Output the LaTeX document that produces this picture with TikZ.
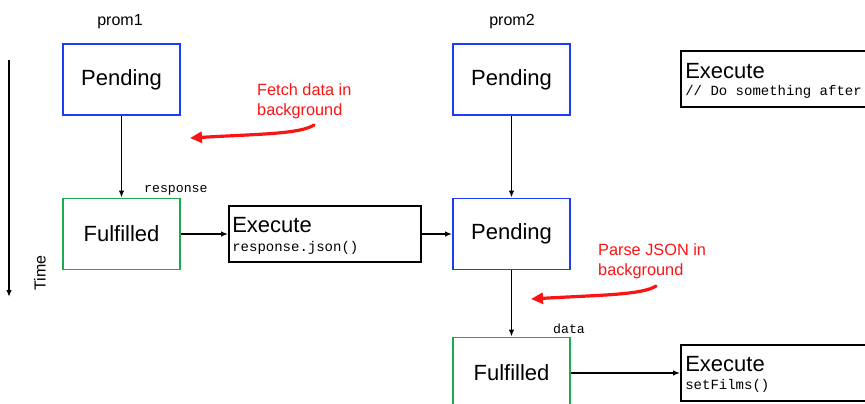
\documentclass[tikz,border=0pt]{standalone}
\usepackage{fontspec}
\setmainfont{Liberation Sans}
\setmonofont{Liberation Mono}
\usetikzlibrary{arrows.meta,calc}
\definecolor{pendblue}{RGB}{28,60,250}
\definecolor{fulgreen}{RGB}{30,170,80}
\definecolor{notered}{RGB}{250,20,20}
\tikzset{
  state/.style={draw, line width=1.8pt, minimum width=117pt, minimum height=71pt,
    inner sep=0pt, font=\fontsize{22}{26}\selectfont},
  pending/.style={state, draw=pendblue},
  fulfilled/.style={state, draw=fulgreen},
  execbox/.style={draw=black, line width=1.8pt, minimum width=192pt, minimum height=56pt, inner sep=0pt},
  exectitle/.style={anchor=base west, inner sep=0pt, font=\fontsize{22}{26}\selectfont},
  execcode/.style={anchor=base west, inner sep=0pt, font=\ttfamily\fontsize{14}{16}\selectfont},
  varlabel/.style={anchor=base west, inner sep=0pt, font=\ttfamily\fontsize{13.2}{15}\selectfont},
  promlabel/.style={inner sep=0pt, font=\fontsize{16}{19}\selectfont},
  flow/.style={line width=1.6pt, -{Latex[length=7pt,width=5.5pt]}},
  note/.style={anchor=north west, inner sep=0pt, align=left, text=notered,
    font=\fontsize{16.3}{20}\selectfont},
  notearrow/.style={draw=notered, line width=3.2pt, line cap=round,
    -{Triangle[length=12pt,width=11pt]}},
}
\begin{document}
\begin{tikzpicture}[x=1pt,y=-1pt]
\useasboundingbox (0,0) rectangle (865,404);

% time axis
\coordinate (t0) at (9,60);
\coordinate (t1) at (9,297);
\draw[flow] (t0) -- (t1);
\node[promlabel, rotate=90] (time) at (40,273) {Time};

% column headers
\node[promlabel, anchor=base] (p1) at (120,26) {prom1};
\node[promlabel, anchor=base] (p2) at (512,26) {prom2};

% first promise
\node[pending] (pend1) at (121.5,79.5) {Pending};
\node[fulfilled] (ful1) at (121.5,234) {Fulfilled};
\draw[flow] (pend1) -- (ful1);
\node[varlabel] (resp) at (144,192) {response};

\node[execbox] (ex1) at (325,234) {};
\node[exectitle] (ex1t) at ($(ex1.north west)+(4,27)$) {Execute};
\node[execcode] (ex1c) at ($(ex1.north west)+(4,46)$) {response.json()};
\draw[flow] (ful1) -- (ex1);

% second promise
\node[pending] (pend2) at (511.5,79.5) {Pending};
\node[pending] (pend3) at (511.5,234) {Pending};
\node[fulfilled] (ful2) at (511.5,373) {Fulfilled};
\draw[flow] (pend2) -- (pend3);
\draw[flow] (ex1) -- (pend3);
\draw[flow] (pend3) -- (ful2);
\node[varlabel] (datal) at (553,333) {data};

\node[execbox] (ex3) at (777,373) {};
\node[exectitle] (ex3t) at ($(ex3.north west)+(5,27)$) {Execute};
\node[execcode] (ex3c) at ($(ex3.north west)+(5,45)$) {setFilms()};
\draw[flow] (ful2) -- (ex3);

\node[execbox] (ex2) at (777,79) {};
\node[exectitle] (ex2t) at ($(ex2.north west)+(5,28)$) {Execute};
\node[execcode] (ex2c) at ($(ex2.north west)+(5,45)$) {// Do something after};

% notes
\node[note] (n1) at (257,83) {Fetch data in\\background};
\coordinate (n1s) at (314,125);
\coordinate (n1e) at (190,138);
\draw[notearrow] (n1s) .. controls (300,134) and (260,134) .. (n1e);

\node[note] (n2) at (598,243) {Parse JSON in\\background};
\coordinate (n2s) at (656,286);
\coordinate (n2e) at (531,299);
\draw[notearrow] (n2s) .. controls (642,295) and (600,295) .. (n2e);
\end{tikzpicture}
\end{document}
